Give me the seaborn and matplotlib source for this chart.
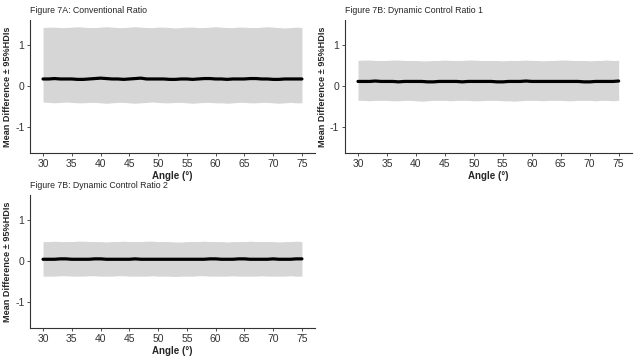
import numpy as np
import pandas as pd
import matplotlib
matplotlib.use("Agg")
import matplotlib.pyplot as plt
import seaborn as sns

sns.set_theme(style="white")
plt.rcParams["font.family"] = ["Liberation Sans", "DejaVu Sans"]
plt.rcParams["axes.unicode_minus"] = False

angle = list(range(30, 76))

# Figure 7A: Conventional Ratio
mean_a = [0.17, 0.17, 0.18, 0.17, 0.17, 0.17, 0.16, 0.16, 0.17, 0.18,
          0.19, 0.18, 0.17, 0.17, 0.16, 0.17, 0.18, 0.19, 0.17, 0.17,
          0.17, 0.17, 0.16, 0.16, 0.17, 0.17, 0.16, 0.17, 0.18, 0.18,
          0.17, 0.17, 0.16, 0.17, 0.17, 0.17, 0.18, 0.18, 0.17, 0.17,
          0.16, 0.16, 0.17, 0.17, 0.17, 0.17]
upper_a = [1.42, 1.43, 1.43, 1.42, 1.42, 1.43, 1.44, 1.43, 1.42, 1.42,
           1.43, 1.44, 1.43, 1.42, 1.42, 1.43, 1.44, 1.43, 1.42, 1.42,
           1.43, 1.43, 1.42, 1.41, 1.42, 1.43, 1.43, 1.42, 1.42, 1.43,
           1.44, 1.43, 1.42, 1.42, 1.43, 1.43, 1.42, 1.42, 1.43, 1.44,
           1.43, 1.42, 1.41, 1.42, 1.43, 1.42]
lower_a = [-0.39, -0.40, -0.41, -0.40, -0.39, -0.40, -0.41, -0.41, -0.40, -0.40,
           -0.41, -0.42, -0.41, -0.40, -0.40, -0.41, -0.42, -0.41, -0.40, -0.39,
           -0.40, -0.41, -0.41, -0.40, -0.40, -0.41, -0.42, -0.41, -0.40, -0.40,
           -0.41, -0.41, -0.42, -0.41, -0.40, -0.40, -0.41, -0.41, -0.40, -0.40,
           -0.41, -0.42, -0.41, -0.40, -0.41, -0.41]

# Figure 7B: Dynamic Control Ratio 1
mean_b = [0.11, 0.11, 0.11, 0.12, 0.11, 0.11, 0.11, 0.10, 0.11, 0.11,
          0.11, 0.11, 0.10, 0.10, 0.11, 0.11, 0.11, 0.11, 0.10, 0.11,
          0.11, 0.11, 0.11, 0.11, 0.10, 0.10, 0.11, 0.11, 0.11, 0.12,
          0.11, 0.11, 0.11, 0.11, 0.11, 0.11, 0.11, 0.11, 0.11, 0.10,
          0.10, 0.11, 0.11, 0.11, 0.11, 0.12]
upper_b = [0.62, 0.63, 0.63, 0.62, 0.62, 0.62, 0.63, 0.63, 0.62, 0.62,
           0.62, 0.61, 0.61, 0.62, 0.62, 0.63, 0.62, 0.62, 0.62, 0.63,
           0.63, 0.62, 0.62, 0.62, 0.62, 0.61, 0.62, 0.62, 0.62, 0.63,
           0.62, 0.62, 0.61, 0.62, 0.62, 0.63, 0.63, 0.62, 0.62, 0.62,
           0.61, 0.62, 0.62, 0.63, 0.62, 0.62]
lower_b = [-0.35, -0.35, -0.36, -0.35, -0.35, -0.35, -0.36, -0.36, -0.35, -0.35,
           -0.36, -0.37, -0.36, -0.35, -0.35, -0.35, -0.36, -0.35, -0.35, -0.35,
           -0.36, -0.36, -0.35, -0.35, -0.35, -0.36, -0.36, -0.37, -0.36, -0.35,
           -0.35, -0.35, -0.36, -0.35, -0.35, -0.35, -0.36, -0.36, -0.35, -0.35,
           -0.35, -0.36, -0.35, -0.35, -0.36, -0.35]

# Figure 7B: Dynamic Control Ratio 2
mean_c = [0.04, 0.04, 0.04, 0.05, 0.05, 0.04, 0.04, 0.04, 0.04, 0.05,
          0.05, 0.04, 0.04, 0.04, 0.04, 0.04, 0.05, 0.04, 0.04, 0.04,
          0.04, 0.04, 0.04, 0.04, 0.04, 0.04, 0.04, 0.04, 0.04, 0.05,
          0.05, 0.04, 0.04, 0.04, 0.05, 0.05, 0.04, 0.04, 0.04, 0.04,
          0.05, 0.04, 0.04, 0.04, 0.05, 0.05]
upper_c = [0.47, 0.47, 0.48, 0.47, 0.47, 0.47, 0.48, 0.48, 0.47, 0.47,
           0.47, 0.46, 0.47, 0.47, 0.48, 0.47, 0.47, 0.47, 0.48, 0.48,
           0.47, 0.47, 0.47, 0.46, 0.46, 0.47, 0.47, 0.47, 0.48, 0.47,
           0.47, 0.47, 0.46, 0.47, 0.47, 0.47, 0.48, 0.47, 0.47, 0.47,
           0.47, 0.46, 0.47, 0.47, 0.48, 0.47]
lower_c = [-0.37, -0.37, -0.37, -0.36, -0.36, -0.37, -0.37, -0.37, -0.36, -0.36,
           -0.37, -0.37, -0.37, -0.36, -0.36, -0.37, -0.37, -0.37, -0.37, -0.36,
           -0.37, -0.37, -0.37, -0.38, -0.37, -0.37, -0.37, -0.36, -0.36, -0.37,
           -0.37, -0.37, -0.37, -0.36, -0.37, -0.37, -0.37, -0.37, -0.36, -0.37,
           -0.37, -0.37, -0.37, -0.36, -0.37, -0.37]

titles = ["Figure 7A: Conventional Ratio",
          "Figure 7B: Dynamic Control Ratio 1",
          "Figure 7B: Dynamic Control Ratio 2"]
panels = [(mean_a, lower_a, upper_a),
          (mean_b, lower_b, upper_b),
          (mean_c, lower_c, upper_c)]
# axes rectangles in figure fraction: left, bottom, width, height
rects = [[0.047, 0.575, 0.445, 0.369],
         [0.539, 0.575, 0.448, 0.369],
         [0.047, 0.089, 0.445, 0.369]]

fig = plt.figure(figsize=(6.4, 3.6), dpi=100)

for title, (m, lo, hi), rect in zip(titles, panels, rects):
    ax = fig.add_axes(rect)
    df = pd.DataFrame({"angle": angle, "mean": m, "lower": lo, "upper": hi})
    ax.fill_between(df["angle"], df["lower"], df["upper"], color="#d6d6d6", linewidth=0)
    sns.lineplot(data=df, x="angle", y="mean", color="black", linewidth=2.3, ax=ax)
    ax.set_xlim(27.75, 77.25)
    ax.set_ylim(-1.63, 1.6)
    ax.set_xticks(range(30, 76, 5))
    ax.set_yticks([-1, 0, 1])
    ax.set_xlabel("Angle (°)", fontsize=7, fontweight="bold", labelpad=1.5)
    ax.set_ylabel("Mean Difference ± 95%HDIs", fontsize=6.6, fontweight="bold", labelpad=2)
    ax.set_title(title, fontsize=6.3, loc="left", x=-0.0, pad=5)
    ax.tick_params(axis="both", labelsize=7.5, length=2.5, width=0.6, color="#333333",
                   labelcolor="#333333", pad=1.5, bottom=True, left=True)
    for side in ["top", "right"]:
        ax.spines[side].set_visible(False)
    for side in ["left", "bottom"]:
        ax.spines[side].set_color("#333333")
        ax.spines[side].set_linewidth(0.8)

fig.savefig("out.png", dpi=100)
